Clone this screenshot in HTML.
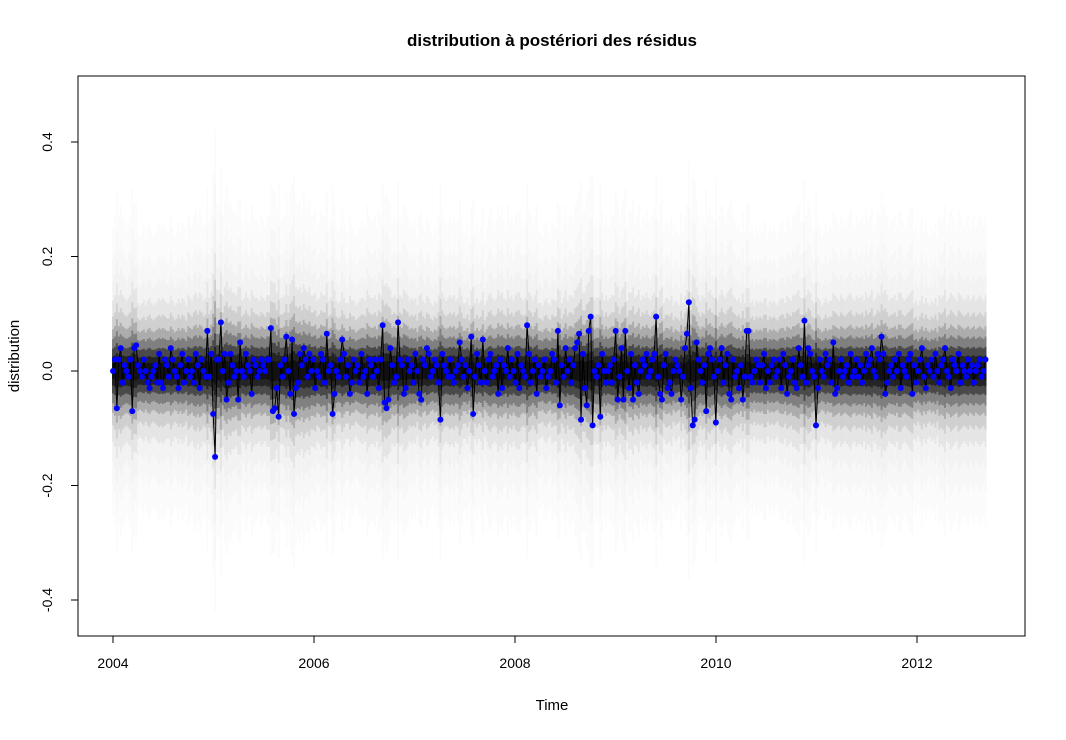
<!DOCTYPE html>
<html><head><meta charset="utf-8"><style>
body{margin:0;background:#fff}
svg text{font-family:"Liberation Sans",sans-serif;fill:#000}
</style></head><body>
<svg id="chart" width="1066" height="735">
<rect width="1066" height="735" fill="#fff"/>
<g id="fan"></g>
<polyline id="line" fill="none" stroke="#000" stroke-width="1"/>
<g id="pts"></g>
<rect x="78" y="76" width="947" height="560" fill="none" stroke="#000" stroke-width="1"/>
<g id="axes"></g>
<text x="552" y="46" text-anchor="middle" font-size="17" font-weight="bold">distribution à postériori des résidus</text>
<text x="552" y="710" text-anchor="middle" font-size="15">Time</text>
<text x="19" y="356" text-anchor="middle" font-size="15" transform="rotate(-90 19 356)">distribution</text>
</svg>
<script>
const startYear = 2004;
const freq = 52.18;
const resid2004 = [0,2,-6.5,2,4,-2,1,0,-1,2,-7,4,4.5,1,0,-1,2,0,-2,-3,-1,0,1,-2,3,-2,-3,2,1,-1,4,2,0,-1,-3,1,3,-2,0,2,-1,0,-2,3,1,-3,2,0,-1,7,-1,3];
const resid2005 = [-7.5,-15,2,2,8.5,0,3,-5,-2,3,1,-1,0,-5,5,0,-1,3,1,0,-4,2,1,-1,0,2,1,0,2,2,7.5,-7,-6.5,-3,-8,1,-1,2,6,0,-4,5.5,-7.5,-3,-2,3,1,4,2,-1,3,0];
const resid2006 = [2,-3,0,-1,3,2,-2,6.5,0,1,-7.5,-4,0,-1,2,5.5,3,-1,1,-4,-2,2,0,1,-2,3,-1,0,-4,2,1,-1,2,0,-3,2,8,-5.5,-6.5,-5,4,1,-2,-1,8.5,2,1,-4,-3,2,0,1];
const resid2007 = [-2,3,0,-4,-5,2,1,4,3,-1,0,2,1,-2,-8.5,3,1,0,-1,2,-1,-2,0,1,5,2,-1,1,-3,0,6,-7.5,-1,3,1,-2,5.5,0,-2,2,3,-1,0,1,-4,2,-3,1,0,4,-1,2];
const resid2008 = [0,-2,3,-3,1,0,-1,8,3,-2,0,2,-4,1,-1,0,2,-3,-1,0,3,2,-2,7,-6,1,-1,4,0,2,-2,1,4,5,6.5,-8.5,3,-3,-6,7,9.5,-9.5,0,-1,1,-8,3,0,-2,0,1,-2];
const resid2009 = [2,7,-5,-1,4,-5,7,0,-3,3,-5,1,-2,-4,0,2,1,3,-1,0,2,3,9.5,-1,-4,-5,1,3,-3,-2,-4,0,2,1,0,-5,-1,4,6.5,12,-3,-9.5,-8.5,5,2,0,-2,1,-7,3,4,2];
const resid2010 = [-1,-9,0,2,4,-2,1,3,-4,-5,2,-1,0,-3,1,-5,-1,7,7,-1,-2,0,2,1,-2,1,3,-3,0,-2,1,2,-1,0,2,-3,3,1,-4,-1,0,2,-2,-3,4,1,-1,8.8,-2,4,3,0];
const resid2011 = [-1,-9.5,-3,2,0,-1,3,1,2,-2,5,-4,-3,0,2,-1,0,1,-2,3,-1,0,2,-1,1,-2,0,3,1,2,4,0,-1,3,2,6,3,-4,-2,0,1,-1,2,0,3,-3,1,0,-1,2,3,-4];
const resid2012 = [1,-2,0,2,4,-1,-3,1,0,2,-1,3,0,-2,1,2,4,0,-1,-3,2,1,0,3,-2,1,0,-1,2,0,1,-2,0,1,2,-1,0,2];
const sdQuarter = [0.07,0.065,0.065,0.07,0.075,0.07,0.07,0.075,0.07,0.065,0.07,0.07,0.065,0.07,0.065,0.07,0.07,0.065,0.07,0.07,0.07,0.07,0.065,0.07,0.07,0.065,0.065,0.07,0.065,0.07,0.07,0.07,0.065,0.07,0.07];
const xTicks = [2004,2006,2008,2010,2012];
const yTicks = [-0.4,-0.2,0.0,0.2,0.4];
const yTickLabels = ["-0.4","-0.2","0.0","0.2","0.4"];

const ns = "http://www.w3.org/2000/svg";
const xs = t => 113 + (t - 2004) * 100.5;
const ys = v => 371 - v * 572.5;
const resid = [].concat(resid2004,resid2005,resid2006,resid2007,resid2008,resid2009,resid2010,resid2011,resid2012).map(v => v / 100);
const fan = document.getElementById('fan');
const pts = document.getElementById('pts');
const axes = document.getElementById('axes');
const step = 100.5 / freq;
const levels = [4.5, 3.5, 2.8, 2.2, 1.7, 1.3, 1, 0.7, 0.45, 0.25];
const ops = [0.015, 0.015, 0.02, 0.05, 0.09, 0.17, 0.25, 0.42, 0.5, 0.5];
let linePts = [];
resid.forEach((v, i) => {
  const t = startYear + i / freq;
  const sd = sdQuarter[Math.min(sdQuarter.length - 1, Math.floor(i / 13))] * (0.8 + 3 * Math.abs(v));
  const cx = xs(t);
  levels.forEach((k, j) => {
    const r = document.createElementNS(ns, 'rect');
    r.setAttribute('x', cx - step / 2);
    r.setAttribute('width', step + 0.05);
    r.setAttribute('y', ys(k * sd));
    r.setAttribute('height', ys(-k * sd) - ys(k * sd));
    r.setAttribute('fill', '#000');
    r.setAttribute('fill-opacity', ops[j]);
    
    
    fan.appendChild(r);
  });
  linePts.push(cx.toFixed(1) + ',' + ys(v).toFixed(1));
  const c = document.createElementNS(ns, 'circle');
  c.setAttribute('cx', cx);
  c.setAttribute('cy', ys(v));
  c.setAttribute('r', 3);
  c.setAttribute('fill', '#0000ff');
  
  
  pts.appendChild(c);
});
document.getElementById('line').setAttribute('points', linePts.join(' '));

function mk(tag, attrs, txt) {
  const e = document.createElementNS(ns, tag);
  for (const k in attrs) e.setAttribute(k, attrs[k]);
  if (txt !== undefined) e.textContent = txt;
  axes.appendChild(e);
  return e;
}
const xl = mk('line', {x1: xs(2004), x2: xs(2012), y1: 636, y2: 636, stroke: '#000'});


xTicks.forEach(t => {
  const tk = mk('line', {x1: xs(t), x2: xs(t), y1: 636, y2: 643, stroke: '#000'});
  
  
  const lb = mk('text', {x: xs(t), y: 668, 'text-anchor': 'middle', 'font-size': 14}, String(t));
  
  
});
const yl = mk('line', {x1: 78, x2: 78, y1: ys(-0.4), y2: ys(0.4), stroke: '#000'});


yTicks.forEach((v, i) => {
  const tk = mk('line', {x1: 71, x2: 78, y1: ys(v), y2: ys(v), stroke: '#000'});
  
  
  const lb = mk('text', {x: 52, y: ys(v), 'text-anchor': 'middle', 'font-size': 14, transform: 'rotate(-90 52 ' + ys(v) + ')'}, yTickLabels[i]);
  
  
});
</script>
</body></html>
